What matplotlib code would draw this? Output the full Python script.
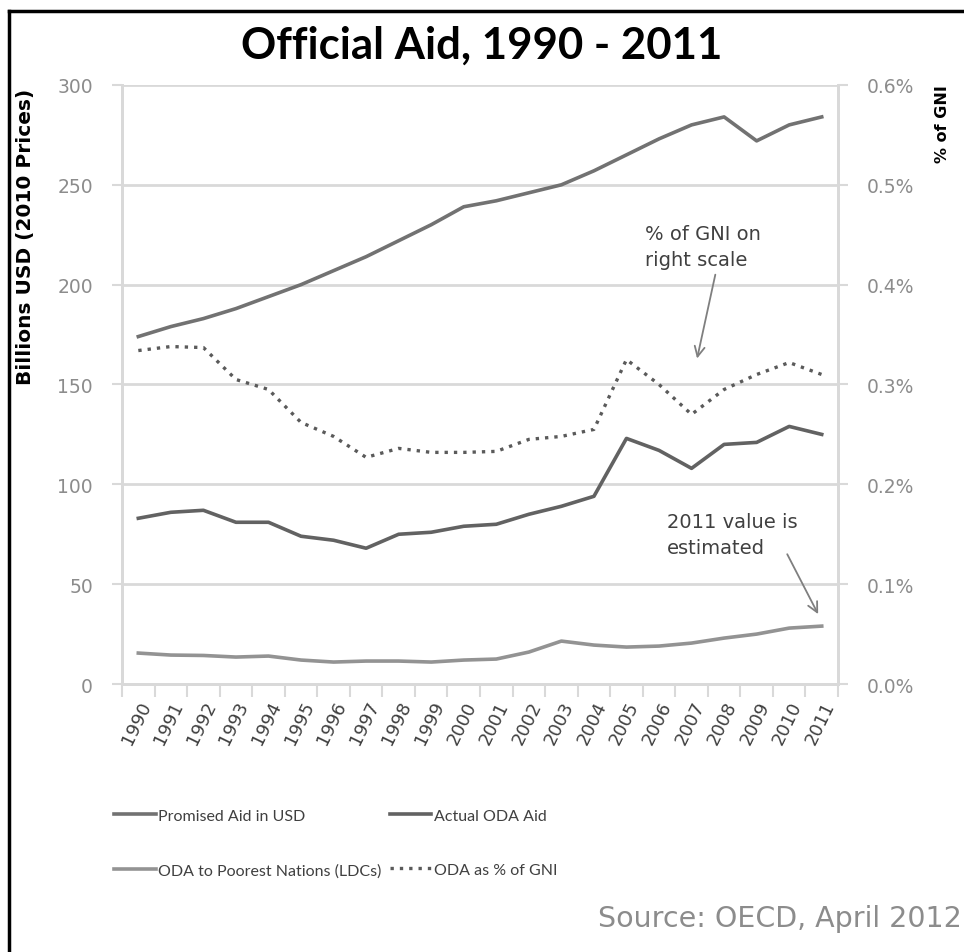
import matplotlib
matplotlib.use('Agg')
import matplotlib.pyplot as plt
from matplotlib.lines import Line2D
from matplotlib.ticker import FuncFormatter

plt.rcParams['font.family'] = ['DejaVu Sans']

years = [str(y) for y in range(1990, 2012)]
promised = [174, 179, 183, 188, 194, 200, 207, 214, 222, 230, 239, 242,
            246, 250, 257, 265, 273, 280, 284, 272, 280, 284]
actual_oda = [83, 86, 87, 81, 81, 74, 72, 68, 75, 76, 79, 80,
              85, 89, 94, 123, 117, 108, 120, 121, 129, 125]
ldc_oda = [15.5, 14.5, 14.3, 13.5, 14, 12, 11, 11.5, 11.5, 11, 12, 12.5,
           16, 21.5, 19.5, 18.5, 19, 20.5, 23, 25, 28, 29]
gni_pct = [0.334, 0.338, 0.337, 0.305, 0.295, 0.262, 0.248, 0.227, 0.236, 0.232, 0.232, 0.233,
           0.245, 0.248, 0.255, 0.325, 0.300, 0.270, 0.295, 0.310, 0.322, 0.310]

GRID = '#d9d9d9'
TICK = '#8c8c8c'

fig = plt.figure(figsize=(9.64, 9.53), dpi=100)
ax = fig.add_axes([0.1266, 0.2812, 0.7427, 0.6286])
ax2 = ax.twinx()

x = list(range(len(years)))
l1, = ax.plot(x, promised, color='#727272', lw=2.6, solid_joinstyle='round')
l2, = ax.plot(x, actual_oda, color='#626262', lw=2.6, solid_joinstyle='round')
l3, = ax.plot(x, ldc_oda, color='#939393', lw=2.6, solid_joinstyle='round')
l4, = ax2.plot(x, gni_pct, color='#5a5a5a', lw=2.4, linestyle=(0, (1, 1.8)))

ax.set_xlim(-0.5, len(years) - 0.5)
ax.set_ylim(0, 300)
ax2.set_ylim(0, 0.6)

ax.set_yticks(range(0, 301, 50))
ax.yaxis.grid(True, color=GRID, lw=2)
ax.set_axisbelow(True)
ax2.set_yticks([0, 0.1, 0.2, 0.3, 0.4, 0.5, 0.6])
ax2.yaxis.set_major_formatter(FuncFormatter(lambda v, p: f"{v:.1f}%"))

# category boundaries get the tick marks, labels sit at the centres
ax.set_xticks([i - 0.5 for i in range(len(years) + 1)])
ax.set_xticklabels([])
ax.set_xticks(x, minor=True)
ax.set_xticklabels(years, minor=True, rotation=64, ha='right', va='top',
                   rotation_mode='anchor', fontsize=13, color='#404040')
ax.tick_params(axis='x', which='major', length=9, width=1.5, color=GRID, direction='out')
ax.tick_params(axis='x', which='minor', length=0, pad=10)
ax.tick_params(axis='y', length=7, width=1.5, color=GRID, labelsize=13.5,
               labelcolor=TICK, pad=14)
ax2.tick_params(axis='y', length=7, width=1.5, color=GRID, labelsize=13.5,
                labelcolor=TICK, pad=14)

for a in (ax, ax2):
    a.spines['top'].set_visible(False)
    for s in ('left', 'right', 'bottom'):
        a.spines[s].set_color(GRID)
        a.spines[s].set_linewidth(2)

fig.text(0.5, 0.952, "Official Aid, 1990 - 2011", ha='center', va='center',
         fontsize=31.5, fontweight='bold', color='black', family=['Lato', 'DejaVu Sans'])
fig.text(0.026, 0.907, "Billions USD (2010 Prices)", rotation=90, ha='center', va='top',
         fontsize=14.5, fontweight='bold', color='black')
fig.text(0.978, 0.911, "% of GNI", rotation=90, ha='center', va='top',
         fontsize=11.5, fontweight='bold', color='black')

ARROW = dict(arrowstyle='->', color='#7f7f7f', lw=1.3, shrinkA=0, shrinkB=0,
             mutation_scale=18)
ax.text(15.58, 219, "% of GNI on\nright scale", fontsize=14, color='#404040',
        ha='left', va='center', linespacing=1.5)
ax.annotate("", xy=(17.17, 163), xytext=(17.73, 205), arrowprops=ARROW)
ax.text(16.25, 75, "2011 value is\nestimated", fontsize=14, color='#404040',
        ha='left', va='center', linespacing=1.5)
ax.annotate("", xy=(20.89, 35), xytext=(19.94, 65), arrowprops=ARROW)

fig.legend([l1, l3, l2, l4],
           ["Promised Aid in USD", "ODA to Poorest Nations (LDCs)",
            "Actual ODA Aid", "ODA as % of GNI"],
           ncol=2, loc='upper left', bbox_to_anchor=(0.112, 0.157), frameon=False,
           prop={'family': ['Lato', 'DejaVu Sans'], 'size': 11.5},
           labelcolor='#404040', handlelength=2.6, handletextpad=0.15,
           columnspacing=0.5, labelspacing=2.5, borderaxespad=0)

fig.text(0.998, 0.036, "Source: OECD, April 2012", ha='right', va='center',
         fontsize=20.5, color='#8c8c8c')

# black frame on the top and left edge
fig.add_artist(Line2D([0.0097, 0.0097], [0.0, 0.9874], transform=fig.transFigure,
                      color='black', lw=2.5))
fig.add_artist(Line2D([0.0097, 1.0], [0.9874, 0.9874], transform=fig.transFigure,
                      color='black', lw=2.5))

fig.savefig("out.png", dpi=100)
